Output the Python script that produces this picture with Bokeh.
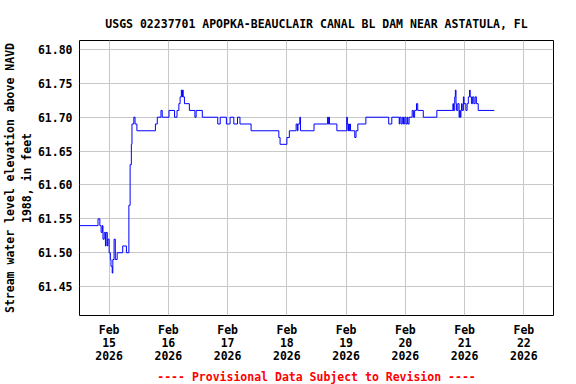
from datetime import datetime, timedelta
from bokeh.plotting import figure
from bokeh.models import Range1d, FixedTicker, DatetimeTickFormatter, NumeralTickFormatter, Title
from bokeh.embed import file_html
from bokeh.resources import INLINE

# ---- data (hours after 2026-02-15 00:00, gage height in feet) ----
hours = [-12.0, -4.5, -3.75, -3.25, -2.75, -2.5, -2.0, -1.5, -1.25, -0.75, -0.5,
         0.0, 0.5, 0.75, 1.25, 1.5, 2.0, 2.5, 3.25, 5.5, 7.0, 8.0, 8.5, 9.0, 9.25,
         10.0, 10.5, 11.25, 18.75, 19.5, 21.0, 21.5, 24.25, 26.5, 27.5, 28.25, 28.75,
         29.25, 29.5, 29.75, 30.0, 30.5, 32.5, 34.75, 35.25, 37.75, 44.0, 45.0, 47.5,
         49.0, 50.5, 52.0, 53.0, 57.5, 68.75, 69.25, 72.0, 73.0, 75.75, 76.25, 76.5,
         77.25, 77.5, 83.0, 88.5, 88.75, 89.0, 89.25, 92.25, 96.25, 96.5, 96.75, 97.0,
         97.25, 97.5, 97.75, 99.5, 100.0, 100.75, 104.0, 113.25, 114.5, 117.5, 117.75,
         118.25, 118.75, 119.25, 119.75, 120.25, 120.75, 121.0, 121.5, 122.75, 123.25,
         123.75, 124.5, 125.0, 127.25, 132.75, 139.25, 139.5, 140.0, 140.25, 140.5,
         140.75, 141.25, 141.75, 142.0, 142.25, 142.5, 142.75, 143.0, 143.5, 143.75,
         144.5, 145.0, 145.5, 146.0, 146.25, 146.75, 147.25, 147.75, 148.25, 148.75,
         149.5, 156.0]
levels = [61.54, 61.55, 61.54, 61.53, 61.54, 61.52, 61.53, 61.51, 61.53, 61.51, 61.52,
          61.50, 61.49, 61.48, 61.47, 61.49, 61.52, 61.49, 61.50, 61.51, 61.50, 61.57, 61.63, 61.66, 61.69,
          61.70, 61.69, 61.68, 61.69, 61.70, 61.71, 61.70, 61.71, 61.70, 61.71, 61.72, 61.73,
          61.74, 61.73, 61.74, 61.73, 61.72, 61.71, 61.70, 61.71, 61.70, 61.69, 61.70, 61.69,
          61.70, 61.69, 61.70, 61.69, 61.68, 61.67, 61.66, 61.67, 61.68, 61.69, 61.68, 61.69,
          61.70, 61.68, 61.69, 61.70, 61.69, 61.70, 61.69, 61.68, 61.70, 61.69, 61.68, 61.69,
          61.68, 61.69, 61.68, 61.67, 61.68, 61.69, 61.70, 61.69, 61.70, 61.69, 61.70,
          61.69, 61.70, 61.69, 61.70, 61.69, 61.70, 61.69, 61.70, 61.71, 61.70,
          61.71, 61.72, 61.71, 61.70, 61.71, 61.72, 61.71, 61.73, 61.74, 61.72,
          61.71, 61.72, 61.70, 61.71, 61.70, 61.71, 61.72, 61.71, 61.73, 61.72,
          61.71, 61.72, 61.73, 61.74, 61.73, 61.72, 61.73, 61.72, 61.73, 61.72,
          61.71, 61.71]

y_ticks = [61.45, 61.50, 61.55, 61.60, 61.65, 61.70, 61.75, 61.80]
tick_days = [0, 1, 2, 3, 4, 5, 6, 7]  # Feb 15 .. Feb 22, 2026

title_text = "USGS 02237701 APOPKA-BEAUCLAIR CANAL BL DAM NEAR ASTATULA, FL"
y_label = "Stream water level elevation above NAVD\n1988, in feet"
footer_text = "---- Provisional Data Subject to Revision ----"

base = datetime(2026, 2, 15)
epoch = datetime(1970, 1, 1)
times = [base + timedelta(hours=h) for h in hours]
tick_ms = [((base + timedelta(days=d)) - epoch).total_seconds() * 1000 for d in tick_days]

FONT = "DejaVu Sans Mono"
FS = "11.5px"

p = figure(width=576, height=384, x_axis_type="datetime",
           x_range=Range1d(base - timedelta(hours=12), base + timedelta(days=7, hours=12)),
           y_range=Range1d(61.4074, 61.8132),
           output_backend="svg", toolbar_location=None,
           min_border_left=76, min_border_right=23, min_border_top=40, min_border_bottom=66)

p.step(times, levels, mode="after", line_color="#0000ff", line_width=1)

p.title.text = title_text
p.title.align = "center"
p.title.text_font = FONT
p.title.text_font_size = FS
p.title.text_font_style = "bold"
p.title.text_color = "black"
p.title.standoff = 20

p.add_layout(Title(text=footer_text, align="center", text_font=FONT, text_font_size=FS,
                   text_font_style="bold", text_color="red", standoff=2), "below")

p.outline_line_color = "black"
p.outline_line_width = 1
p.background_fill_color = "white"
p.border_fill_color = "white"

for ax in (p.xaxis[0], p.yaxis[0]):
    ax.axis_line_color = None
    ax.major_tick_line_color = None
    ax.minor_tick_line_color = None
    ax.major_tick_out = 0
    ax.major_tick_in = 0
    ax.minor_tick_out = 0
    ax.minor_tick_in = 0
    ax.major_label_text_font = FONT
    ax.major_label_text_font_size = FS
    ax.major_label_text_font_style = "bold"
    ax.major_label_text_color = "black"

p.yaxis.ticker = FixedTicker(ticks=y_ticks)
p.yaxis.formatter = NumeralTickFormatter(format="0.00")
p.yaxis.major_label_standoff = 7
p.yaxis.axis_label = y_label
p.yaxis.axis_label_text_font = FONT
p.yaxis.axis_label_text_font_size = FS
p.yaxis.axis_label_text_font_style = "bold"
p.yaxis.axis_label_text_color = "black"
p.yaxis.axis_label_text_line_height = 1.2
p.yaxis.axis_label_standoff = 1

fmt = "%b\n%d\n%Y"
p.xaxis.ticker = FixedTicker(ticks=tick_ms)
p.xaxis.formatter = DatetimeTickFormatter(days=fmt, hours=fmt, months=fmt, hourmin=fmt, minutes=fmt)
p.xaxis.major_label_standoff = 7
p.xaxis.major_label_text_line_height = 0.95

p.grid.grid_line_color = "#c8c8c8"
p.grid.grid_line_width = 1

open("out.html", "w").write(file_html(p, INLINE))
